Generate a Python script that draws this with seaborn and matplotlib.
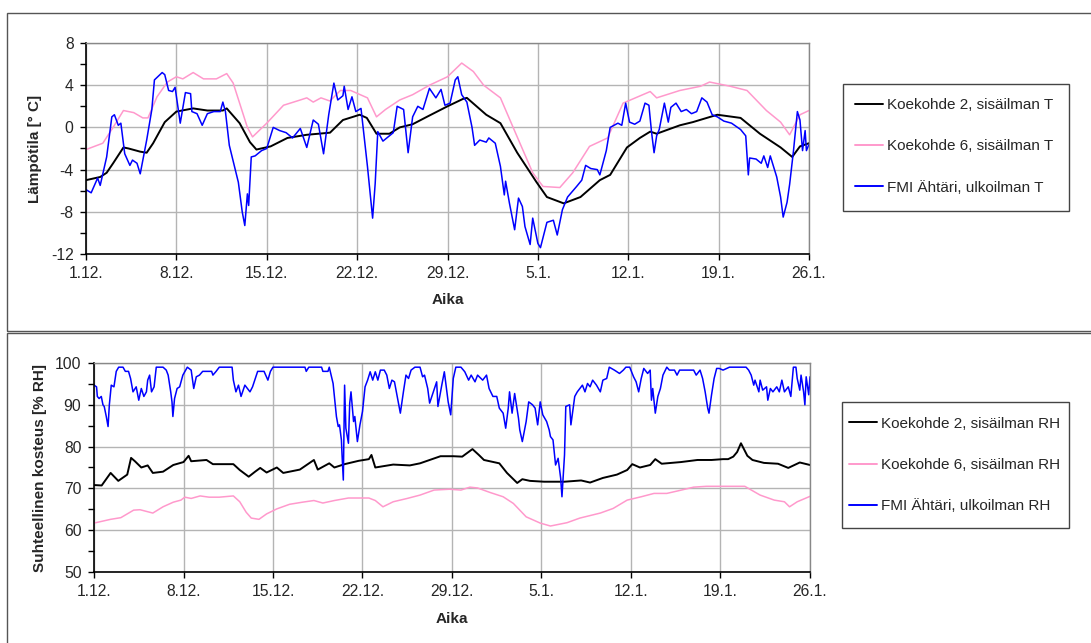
import pandas as pd
import matplotlib
matplotlib.use("Agg")
import matplotlib.pyplot as plt
from matplotlib.patches import Rectangle
import seaborn as sns

# x axis: days from 1.12.
tick_days = [0, 7, 14, 21, 28, 35, 42, 49, 56]
tick_labels = ["1.12.", "8.12.", "15.12.", "22.12.", "29.12.", "5.1.", "12.1.", "19.1.", "26.1."]

# temperatures (°C) as (day, value)
t_k2 = [(0, -5.0), (1.1, -4.7), (1.6, -4.3), (2.1, -3.4), (2.9, -1.9), (3.3, -2.0), (4.2, -2.3),
        (4.7, -2.4), (5.2, -1.5), (6.1, 0.5), (7.0, 1.5), (8.3, 1.8), (9.4, 1.6), (10.6, 1.6),
        (10.9, 1.8), (11.9, 0.4), (12.7, -1.4), (13.2, -2.1), (14.3, -1.8), (15.6, -1.0),
        (17.1, -0.7), (18.9, -0.5), (19.9, 0.7), (21.2, 1.2), (21.75, 0.9), (22.5, -0.6),
        (23.5, -0.6), (24.3, 0.0), (25.3, 0.3), (26.4, 1.0), (28, 2.0), (29.2, 2.7), (29.5, 2.8),
        (31, 1.2), (32.1, 0.4), (33.4, -2.4), (34.9, -5.2), (35.7, -6.6), (37, -7.2), (38.3, -6.6),
        (39.8, -5.0), (40.6, -4.5), (41.9, -1.9), (42.9, -1.0), (43.7, -0.4), (44.2, -0.6),
        (46, 0.2), (47, 0.5), (48.9, 1.2), (50.7, 0.9), (52.2, -0.6), (53.8, -1.9), (54.7, -2.8),
        (55.3, -1.8), (56, -1.5)]

t_k6 = [(0, -2.1), (1.3, -1.5), (2.1, 0.0), (2.9, 1.6), (3.7, 1.4), (4.4, 0.9), (4.8, 0.9),
        (5.5, 2.9), (6.3, 4.3), (7.0, 4.8), (7.5, 4.6), (8.3, 5.2), (9.1, 4.6), (10.1, 4.6),
        (10.9, 5.1), (11.4, 4.2), (12.5, 0.0), (12.9, -0.9), (14.0, 0.4), (15.3, 2.1), (16.6, 2.6),
        (17.1, 2.8), (17.6, 2.4), (18.2, 2.8), (18.9, 2.5), (19.7, 3.5), (20.5, 3.5), (21.8, 2.8),
        (22.5, 1.0), (23.2, 1.7), (24.3, 2.6), (25.3, 3.1), (26.6, 4.0), (28.0, 4.8), (29.1, 6.1),
        (30.0, 5.3), (30.8, 4.0), (32.1, 2.8), (33.4, -0.9), (34.6, -4.3), (35.4, -5.6),
        (36.7, -5.7), (37.7, -4.3), (39.0, -1.8), (40.4, -1.0), (41.6, 2.3), (43.7, 3.4),
        (44.2, 2.8), (46.0, 3.5), (47.6, 3.9), (48.3, 4.3), (49.9, 3.9), (51.2, 3.5), (52.7, 1.6),
        (53.8, 0.5), (54.5, -0.7), (55.3, 1.2), (56.0, 1.6)]

t_out = [(0, -5.9), (0.4, -6.2), (0.9, -4.8), (1.1, -5.5), (1.6, -2.8), (2.0, 1.0), (2.2, 1.2),
         (2.5, 0.2), (2.7, 0.4), (3.0, -2.5), (3.4, -3.6), (3.6, -3.1), (3.95, -3.4), (4.2, -4.4),
         (4.7, -1.2), (5.1, 1.7), (5.3, 4.5), (5.9, 5.2), (6.1, 5.0), (6.4, 3.5), (6.7, 3.4),
         (6.9, 3.8), (7.2, 1.3), (7.3, 0.4), (7.7, 3.3), (8.1, 3.2), (8.2, 1.5), (8.6, 1.3),
         (9.0, 0.2), (9.4, 1.3), (9.9, 1.5), (10.4, 1.5), (10.6, 2.4), (10.8, 1.5), (11.1, -1.7),
         (11.5, -3.7), (11.8, -5.2), (12.1, -8.0), (12.3, -9.3), (12.5, -6.3), (12.6, -7.4),
         (12.8, -2.8), (13.1, -2.7), (13.6, -2.2), (14.0, -2.0), (14.5, 0.0), (15.0, -0.3),
         (15.5, -0.5), (16.0, -1.0), (16.6, -0.1), (17.1, -1.9), (17.6, 0.7), (18.0, 0.3),
         (18.4, -2.5), (18.8, 1.2), (19.2, 4.2), (19.5, 2.6), (19.9, 3.0), (20.0, 3.9), (20.3, 1.7),
         (20.6, 2.9), (20.9, 1.5), (21.3, 1.8), (21.6, -1.5), (21.8, -3.7), (22.2, -8.6),
         (22.4, -5.3), (22.6, -0.4), (23.0, -1.3), (23.4, -0.9), (23.8, -0.5), (24.1, 2.0),
         (24.6, 1.7), (24.95, -2.4), (25.3, 1.0), (25.7, 2.0), (26.1, 1.7), (26.6, 3.7), (27.1, 2.8),
         (27.5, 3.6), (27.8, 2.1), (28.2, 2.3), (28.6, 4.5), (28.8, 4.8), (29.1, 3.1), (29.5, 2.4),
         (29.9, 0.0), (30.1, -1.7), (30.5, -1.2), (31.0, -1.4), (31.2, -1.0), (31.7, -1.5),
         (32.1, -3.7), (32.4, -6.4), (32.5, -5.1), (32.8, -7.2), (33.2, -9.7), (33.5, -6.7),
         (33.8, -7.5), (34.0, -9.4), (34.4, -11.1), (34.6, -8.6), (35.0, -11.0), (35.2, -11.4),
         (35.7, -9.0), (36.2, -8.8), (36.5, -10.2), (36.9, -7.8), (37.3, -6.6), (38.0, -5.6),
         (38.4, -5.0), (38.7, -3.6), (39.1, -3.9), (39.6, -4.0), (39.8, -4.5), (40.3, -2.2),
         (40.6, 0.0), (41.2, 0.4), (41.5, 0.2), (41.8, 2.3), (42.1, 0.5), (42.5, 0.3), (42.9, 0.6),
         (43.3, 2.3), (43.6, 2.1), (43.8, -0.4), (44.0, -2.4), (44.2, -0.8), (44.4, -0.2),
         (44.8, 2.3), (45.1, 0.5), (45.3, 1.9), (45.7, 2.3), (46.1, 1.5), (46.5, 1.7), (46.9, 1.3),
         (47.3, 1.5), (47.7, 2.8), (48.1, 2.4), (48.5, 1.2), (48.9, 1.0), (49.4, 0.6), (50.0, 0.4),
         (50.7, -0.2), (51.1, -0.8), (51.3, -4.5), (51.4, -2.9), (51.9, -3.0), (52.3, -3.4),
         (52.5, -2.7), (52.8, -3.8), (53.0, -2.7), (53.5, -4.7), (53.8, -6.6), (54.0, -8.5),
         (54.3, -7.1), (54.5, -5.4), (54.8, -2.2), (55.1, 1.5), (55.3, 0.7), (55.5, -2.2),
         (55.7, -0.3), (55.8, -2.2), (56.0, -1.6)]

# relative humidity (% RH)
rh_k2 = [(0, 70.8), (0.6, 70.7), (1.3, 73.7), (1.9, 71.8), (2.6, 73.3), (2.9, 77.3), (3.2, 76.5),
         (3.7, 75.0), (4.2, 75.5), (4.6, 73.7), (5.4, 74.0), (6.2, 75.6), (7.0, 76.3), (7.4, 77.8),
         (7.6, 76.5), (8.8, 76.8), (9.3, 75.8), (10.9, 75.8), (11.4, 74.4), (12.1, 72.8),
         (12.6, 74.0), (13.0, 74.9), (13.5, 73.8), (14.3, 75.0), (14.8, 73.7), (16.1, 74.5),
         (17.2, 76.8), (17.5, 74.5), (18.4, 76.0), (18.8, 75.0), (19.6, 75.8), (20.7, 76.6),
         (21.5, 77.0), (21.7, 78.0), (22.0, 75.0), (22.4, 75.2), (23.4, 75.7), (24.7, 75.5),
         (25.5, 76.0), (27.1, 77.7), (28.1, 77.7), (28.8, 77.6), (29.6, 79.4), (30.1, 78.0),
         (30.5, 76.8), (31.7, 76.0), (32.3, 73.7), (33.1, 71.3), (33.5, 72.2), (34.1, 71.8),
         (35.2, 71.6), (36.8, 71.6), (38.1, 71.9), (38.8, 71.4), (39.8, 72.5), (40.9, 73.3),
         (41.7, 74.4), (42.1, 75.8), (42.7, 75.0), (43.5, 75.6), (43.9, 77.0), (44.4, 75.9),
         (45.9, 76.3), (47.2, 76.8), (48.3, 76.8), (49.2, 77.0), (49.6, 77.0), (50.0, 77.6),
         (50.3, 78.7), (50.6, 80.8), (51.1, 77.8), (51.5, 76.8), (52.4, 76.1), (53.5, 75.9),
         (54.3, 74.9), (55.2, 76.2), (56.0, 75.6)]

rh_k6 = [(0, 61.7), (1.3, 62.6), (2.1, 63.0), (3.1, 64.8), (3.6, 64.9), (4.6, 64.1), (5.4, 65.6),
         (6.2, 66.7), (6.8, 67.2), (7.1, 67.9), (7.6, 67.6), (8.3, 68.2), (9.0, 67.9), (9.8, 67.9),
         (10.9, 68.2), (11.4, 66.8), (11.9, 64.3), (12.3, 62.9), (12.9, 62.6), (13.5, 63.9),
         (14.3, 65.1), (15.3, 66.2), (16.3, 66.7), (17.2, 67.1), (17.9, 66.5), (18.8, 67.1),
         (19.9, 67.7), (21.5, 67.7), (22.0, 67.1), (22.6, 65.6), (23.4, 66.8), (24.5, 67.6),
         (25.5, 68.4), (26.6, 69.6), (27.8, 69.8), (28.7, 69.6), (29.4, 70.3), (30.0, 70.1),
         (31.0, 69.0), (32.0, 68.0), (32.8, 66.4), (33.8, 63.2), (34.9, 61.7), (35.7, 61.0),
         (37.0, 61.8), (38.0, 62.9), (39.6, 64.1), (40.6, 65.2), (41.7, 67.2), (42.8, 68.0),
         (43.8, 68.8), (44.8, 68.8), (45.8, 69.5), (46.9, 70.3), (47.9, 70.5), (49.7, 70.5),
         (50.9, 70.5), (52.1, 68.4), (53.2, 67.2), (54.0, 66.8), (54.4, 65.6), (55.0, 66.8),
         (56.0, 68.1)]

rh_out = [(0, 94.7), (0.2, 94.3), (0.26, 92.0), (0.4, 91.5), (0.57, 92.0), (0.7, 90.0), (0.8, 89.6),
          (0.96, 87.2), (1.1, 84.8), (1.2, 90.0), (1.35, 94.7), (1.56, 94.3), (1.74, 98.0),
          (1.93, 99.0), (2.27, 99.0), (2.45, 98.0), (2.7, 98.0), (2.86, 96.3), (3.05, 93.1),
          (3.3, 94.3), (3.5, 91.1), (3.7, 93.9), (3.9, 92.0), (4.1, 93.1), (4.2, 95.9), (4.35, 97.1),
          (4.5, 93.1), (4.7, 94.3), (4.87, 99.0), (5.4, 99.0), (5.65, 98.3), (5.8, 97.1), (6.0, 93.1),
          (6.1, 90.7), (6.17, 87.2), (6.3, 91.5), (6.5, 93.9), (6.7, 94.3), (6.95, 97.1), (7.3, 99.0),
          (7.6, 98.3), (7.8, 93.9), (8.0, 96.7), (8.25, 97.1), (8.5, 98.0), (9.2, 98.0), (9.3, 97.1),
          (9.55, 98.0), (9.8, 99.0), (10.8, 99.0), (10.9, 95.9), (11.1, 93.1), (11.3, 94.7),
          (11.5, 92.0), (11.8, 94.7), (12.2, 93.1), (12.4, 94.3), (12.8, 98.0), (13.3, 98.0),
          (13.6, 95.9), (13.8, 98.0), (14.0, 99.0), (16.5, 99.0), (16.6, 98.0), (16.8, 99.0),
          (17.8, 99.0), (17.9, 98.0), (18.3, 98.0), (18.4, 99.0), (18.7, 95.1), (18.96, 87.2),
          (19.1, 84.8), (19.2, 85.2), (19.35, 81.6), (19.4, 78.0), (19.5, 72.0), (19.6, 94.7),
          (19.7, 84.4), (19.9, 80.8), (20.0, 90.4), (20.1, 93.1), (20.3, 86.0), (20.4, 87.2),
          (20.6, 81.2), (20.8, 85.2), (21.0, 88.4), (21.2, 94.3), (21.4, 95.9), (21.6, 97.9),
          (21.8, 95.9), (22.0, 97.9), (22.2, 95.9), (22.4, 98.3), (22.7, 98.3), (22.9, 97.1),
          (23.1, 93.9), (23.3, 95.9), (23.5, 95.5), (23.8, 90.7), (23.96, 88.0), (24.2, 93.1),
          (24.4, 97.1), (24.6, 96.3), (24.8, 98.3), (25.1, 99.0), (25.5, 99.0), (25.7, 96.7),
          (25.85, 97.1), (26.1, 93.9), (26.25, 90.4), (26.5, 92.7), (26.8, 95.5), (26.9, 89.6),
          (27.2, 94.7), (27.4, 97.9), (27.7, 90.7), (27.9, 87.6), (28.1, 96.3), (28.3, 99.0),
          (28.7, 99.0), (29.0, 97.9), (29.3, 95.9), (29.5, 97.1), (29.8, 95.5), (30.0, 97.1),
          (30.4, 95.9), (30.7, 97.1), (30.9, 93.9), (31.2, 92.0), (31.5, 92.0), (31.7, 89.2),
          (32.0, 88.0), (32.2, 84.4), (32.4, 89.2), (32.5, 93.1), (32.7, 88.0), (32.9, 92.7),
          (33.2, 86.8), (33.3, 84.0), (33.5, 81.2), (33.8, 86.0), (34.0, 90.7), (34.3, 90.0),
          (34.5, 89.2), (34.7, 85.2), (34.9, 90.7), (35.1, 87.6), (35.4, 86.0), (35.6, 84.0),
          (35.7, 82.4), (35.9, 81.6), (36.1, 75.6), (36.3, 77.2), (36.5, 72.4), (36.6, 68.0),
          (36.8, 78.0), (36.9, 89.6), (37.2, 90.0), (37.3, 85.2), (37.6, 92.0), (37.8, 93.1),
          (38.0, 93.9), (38.2, 94.7), (38.4, 93.1), (38.6, 95.1), (38.8, 94.3), (39.0, 95.9),
          (39.3, 94.7), (39.6, 93.1), (39.8, 95.9), (40.1, 96.3), (40.3, 99.0), (40.7, 98.3),
          (41.1, 97.5), (41.4, 98.3), (41.6, 99.0), (41.9, 99.0), (42.2, 96.7), (42.4, 95.5),
          (42.6, 93.1), (42.8, 96.3), (43.0, 98.7), (43.3, 97.5), (43.5, 98.3), (43.6, 91.1),
          (43.7, 93.9), (43.9, 88.0), (44.1, 92.0), (44.3, 93.9), (44.5, 97.1), (44.8, 99.0),
          (45.0, 98.3), (45.4, 98.3), (45.6, 97.1), (45.8, 98.3), (46.3, 98.3), (46.9, 98.3),
          (47.1, 97.1), (47.4, 98.3), (47.6, 96.3), (47.8, 93.1), (48.0, 89.2), (48.1, 88.0),
          (48.3, 92.4), (48.5, 96.3), (48.7, 98.7), (48.9, 98.7), (49.2, 98.3), (49.7, 99.0),
          (51.0, 99.0), (51.2, 98.3), (51.4, 97.1), (51.6, 94.7), (51.7, 95.9), (52.0, 93.1),
          (52.1, 95.9), (52.3, 93.5), (52.6, 94.3), (52.7, 91.1), (52.9, 93.9), (53.1, 93.1),
          (53.4, 94.3), (53.6, 93.1), (53.8, 95.9), (54.0, 93.1), (54.3, 94.3), (54.5, 92.0),
          (54.7, 99.0), (54.9, 99.0), (55.0, 96.3), (55.2, 93.5), (55.3, 97.1), (55.5, 93.1),
          (55.6, 90.0), (55.7, 96.7), (55.9, 92.4), (56.0, 96.7)]

sns.set_style("white")
plt.rcParams["font.family"] = ["Liberation Sans", "DejaVu Sans"]
plt.rcParams["axes.unicode_minus"] = False

W, H = 1091, 643
fig = plt.figure(figsize=(W / 100, H / 100), dpi=100)


def box(x0, y0, x1, y1, color):
    # rectangle given in pixel coords from the top-left corner
    fig.patches.append(Rectangle((x0 / W, 1 - y1 / H), (x1 - x0) / W, (y1 - y0) / H,
                                 transform=fig.transFigure, fill=False, edgecolor=color, lw=1))


# panel frames and legend frames
box(7, 13, 1200, 331, "#555555")
box(7, 333, 1200, 700, "#555555")
box(843, 84, 1069, 211, "#444444")
box(842, 402, 1069, 528, "#444444")

ax1 = fig.add_axes([86 / W, 1 - 254 / H, 723 / W, 211 / H])
ax2 = fig.add_axes([94 / W, 1 - 572 / H, 716 / W, 209 / H])


def draw(ax, data, labels):
    colors = ["black", "#ff99cc", "#0000ff"]
    widths = [1.4, 1.1, 1.1]
    for d, lab, c, w in zip(data, labels, colors, widths):
        df = pd.DataFrame(d, columns=["day", "val"])
        sns.lineplot(data=df, x="day", y="val", ax=ax, color=c, lw=w, label=lab, estimator=None)


def style(ax, ylim, step, minor, ylabel, ylab_x, xlab_y):
    ax.set_xlim(0, 56)
    ax.set_ylim(*ylim)
    ax.set_xticks(tick_days)
    ax.set_xticklabels(tick_labels)
    ax.set_yticks(range(ylim[0], ylim[1] + 1, step))
    ax.set_yticks(range(ylim[0], ylim[1] + 1, minor), minor=True)
    ax.grid(True, which="major", color="#b4b4b4", lw=1)
    ax.set_axisbelow(True)
    ax.tick_params(axis="both", which="major", direction="out", length=4, width=1,
                   labelsize=11.3, pad=5, color="black", left=True, bottom=True)
    ax.tick_params(axis="y", which="minor", direction="out", length=4, width=1, left=True,
                   color="black")
    for s in ["left", "bottom"]:
        ax.spines[s].set_color("black")
        ax.spines[s].set_linewidth(1.2)
    for s in ["top", "right"]:
        ax.spines[s].set_color("#888888")
        ax.spines[s].set_linewidth(1)
    ax.set_ylabel(ylabel, fontsize=11, fontweight="bold")
    ax.set_xlabel("Aika", fontsize=11, fontweight="bold")
    ax.yaxis.set_label_coords(ylab_x, 0.5)
    ax.xaxis.set_label_coords(0.5, xlab_y)


draw(ax1, [t_k2, t_k6, t_out],
     ["Koekohde 2, sisäilman T", "Koekohde 6, sisäilman T", "FMI Ähtäri, ulkoilman T"])
draw(ax2, [rh_k2, rh_k6, rh_out],
     ["Koekohde 2, sisäilman RH", "Koekohde 6, sisäilman RH", "FMI Ähtäri, ulkoilman RH"])

style(ax1, (-12, 8), 4, 2, "Lämpötila [° C]", -0.061, -0.185)
style(ax2, (50, 100), 10, 5, "Suhteellinen kosteus [% RH]", -0.066, -0.19)

for ax, x, yc in [(ax1, 855, 146.5), (ax2, 849, 465)]:
    leg = ax.legend(loc="center left", bbox_to_anchor=(x / W, 1 - yc / H),
                    bbox_transform=fig.transFigure, borderaxespad=0, borderpad=0, fontsize=11,
                    frameon=False, labelspacing=1.78, handlelength=1.8, handletextpad=0.3)
    for h in leg.get_lines():
        h.set_linewidth(1.4)

fig.savefig("out.png", dpi=100)
